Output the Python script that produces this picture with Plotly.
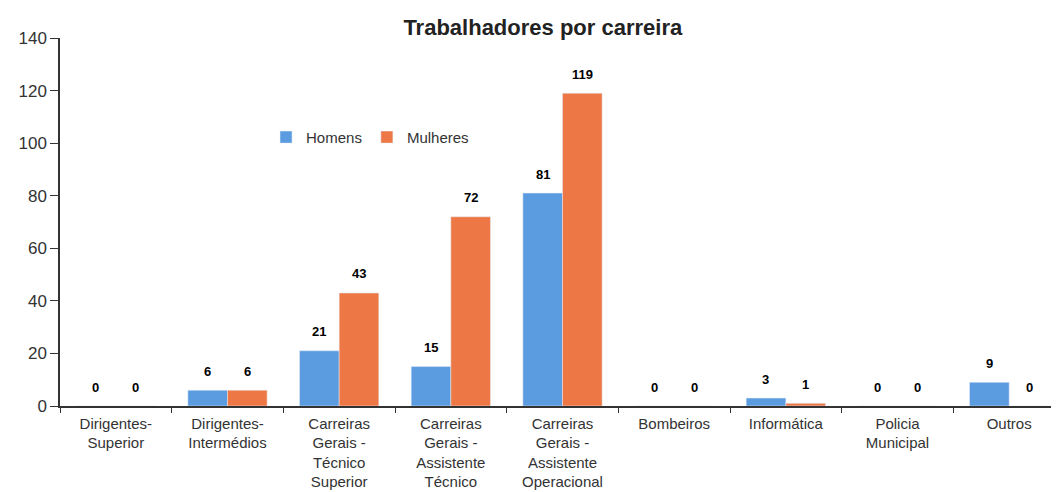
import plotly.graph_objects as go

categorias = [
    "Dirigentes-<br>Superior",
    "Dirigentes-<br>Intermédios",
    "Carreiras<br>Gerais -<br>Técnico<br>Superior",
    "Carreiras<br>Gerais -<br>Assistente<br>Técnico",
    "Carreiras<br>Gerais -<br>Assistente<br>Operacional",
    "Bombeiros",
    "Informática",
    "Policia<br>Municipal",
    "Outros",
]
homens = [0, 6, 21, 15, 81, 0, 3, 0, 9]
mulheres = [0, 6, 43, 72, 119, 0, 1, 0, 0]

fig = go.Figure()

# barras por sexo
fig.add_trace(go.Bar(x=categorias, y=homens, name="Homens", marker=dict(color="#5B9BE0")))
fig.add_trace(go.Bar(x=categorias, y=mulheres, name="Mulheres", marker=dict(color="#EE7845")))

# rótulos de dados (um pouco acima das barras, como no original)
for serie, dx in [(homens, -20), (mulheres, 20)]:
    for cat, v in zip(categorias, serie):
        fig.add_annotation(x=cat, y=v, text="<b>%d</b>" % v, showarrow=False,
                           xshift=dx, yshift=19, yanchor="middle",
                           font=dict(family="Liberation Sans", size=13, color="black"))

fig.update_layout(
    title=dict(text="<b>Trabalhadores por carreira</b>", x=0.505, xanchor="center", y=0.96,
               yanchor="middle", font=dict(family="Liberation Sans", size=22, color="#222222")),
    barmode="group",
    bargap=0.29,
    bargroupgap=0,
    width=1059, height=492,
    margin=dict(l=52, r=2, t=30, b=94),
    plot_bgcolor="white",
    paper_bgcolor="white",
    font=dict(family="Liberation Sans", color="#333333"),
    legend=dict(orientation="h", x=0.205, y=0.73, xanchor="left", yanchor="middle",
                font=dict(size=15, color="#333333"), bgcolor="rgba(0,0,0,0)",
                itemwidth=30, tracegroupgap=0),
    xaxis=dict(showline=True, linecolor="#333333", linewidth=1.5,
               ticks="outside", tickson="boundaries", ticklen=5, tickcolor="#333333",
               tickfont=dict(size=15, color="#333333"), showgrid=False,
               ticklabelstandoff=3),
    yaxis=dict(range=[0, 140], dtick=20, showline=True, linecolor="#333333", linewidth=1.5,
               ticks="outside", ticklen=8, tickcolor="#333333", showgrid=False,
               zeroline=False, tickfont=dict(size=17, color="#333333")),
)

fig.write_html("out.html")
